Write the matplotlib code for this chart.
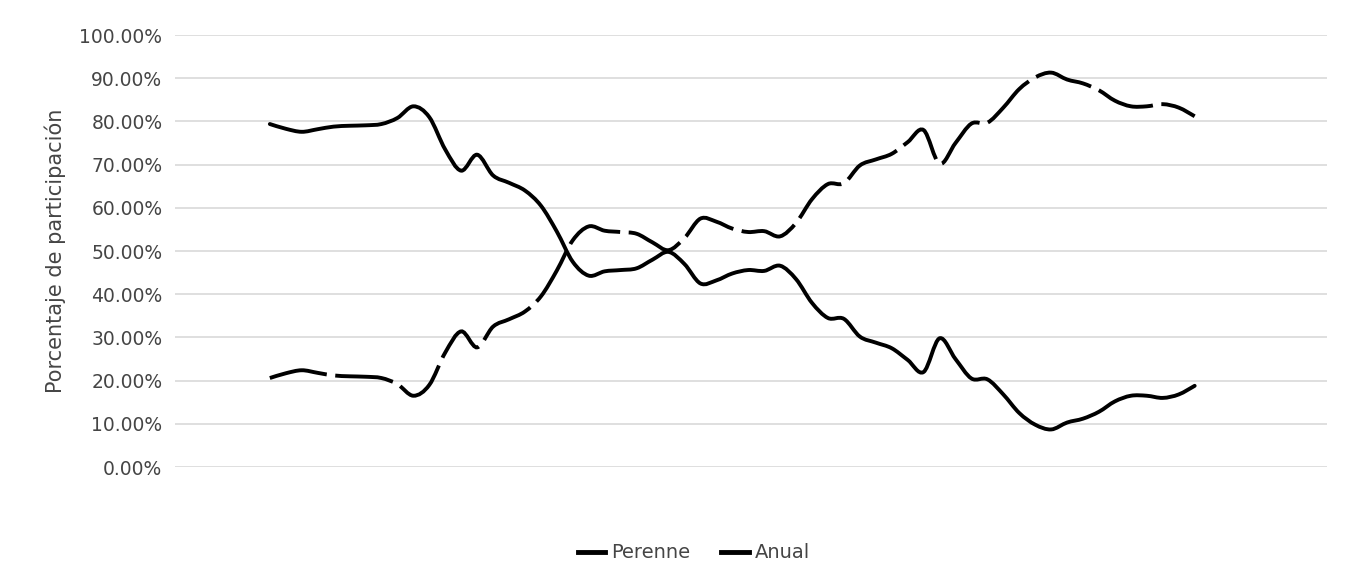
import numpy as np
import matplotlib
matplotlib.use("Agg")
import matplotlib.pyplot as plt
from matplotlib.path import Path
from matplotlib.patches import PathPatch
from matplotlib.lines import Line2D
from matplotlib.ticker import PercentFormatter, MultipleLocator

# Share of participation per period (fractions)
perenne = [0.794, 0.783, 0.776, 0.782, 0.788, 0.790, 0.791, 0.794, 0.808, 0.835,
           0.810, 0.735, 0.686, 0.723, 0.675, 0.658, 0.640, 0.605, 0.545, 0.475,
           0.443, 0.453, 0.456, 0.460, 0.480, 0.498, 0.470, 0.425, 0.432, 0.448,
           0.456, 0.454, 0.466, 0.435, 0.380, 0.345, 0.343, 0.302, 0.288, 0.275,
           0.248, 0.220, 0.298, 0.250, 0.205, 0.203, 0.168, 0.125, 0.098, 0.087,
           0.103, 0.112, 0.128, 0.152, 0.165, 0.165, 0.160, 0.168, 0.188]
anual = [0.206, 0.217, 0.224, 0.218, 0.212, 0.210, 0.209, 0.206, 0.192, 0.165,
         0.190, 0.265, 0.314, 0.277, 0.325, 0.342, 0.360, 0.395, 0.455, 0.525,
         0.557, 0.547, 0.544, 0.540, 0.520, 0.502, 0.530, 0.575, 0.568, 0.552,
         0.544, 0.546, 0.534, 0.565, 0.620, 0.655, 0.657, 0.698, 0.712, 0.725,
         0.752, 0.780, 0.702, 0.750, 0.795, 0.797, 0.832, 0.875, 0.902, 0.913,
         0.897, 0.888, 0.872, 0.848, 0.835, 0.835, 0.840, 0.832, 0.812]
labels = ["Perenne", "Anual"]

grey = "#454545"


def smooth_path(x, y):
    """Bezier path through the points, same style as a smoothed Excel line."""
    n = len(x)
    verts = [(x[0], y[0])]
    codes = [Path.MOVETO]
    for i in range(n - 1):
        a = max(i - 1, 0)
        b = min(i + 2, n - 1)
        c1 = (x[i] + (x[i + 1] - x[a]) / 6, y[i] + (y[i + 1] - y[a]) / 6)
        c2 = (x[i + 1] - (x[b] - x[i]) / 6, y[i + 1] - (y[b] - y[i]) / 6)
        verts += [c1, c2, (x[i + 1], y[i + 1])]
        codes += [Path.CURVE4] * 3
    return Path(verts, codes)


fig = plt.figure(figsize=(13.49, 5.84), dpi=100)
ax = fig.add_axes([0.1297, 0.2003, 0.854, 0.7397])

x = np.arange(len(perenne))
ax.add_patch(PathPatch(smooth_path(x, perenne), fill=False, color="black",
                       lw=2.8, capstyle="round", joinstyle="round"))
ax.add_patch(PathPatch(smooth_path(x, anual), fill=False, color="black",
                       lw=2.8, linestyle=(0, (15, 2.2)), capstyle="butt"))

ax.set_xlim(-5.95, 66.3)
ax.set_ylim(0, 1.0)
ax.yaxis.set_major_locator(MultipleLocator(0.1))
ax.yaxis.set_major_formatter(PercentFormatter(1.0, decimals=2))
ax.set_xticks([])
ax.tick_params(axis="y", length=0, pad=9, labelsize=13.5, labelcolor=grey)
for s in ax.spines.values():
    s.set_visible(False)
ax.grid(axis="y", color="#d9d9d9", lw=1.2)
ax.set_axisbelow(True)
ax.set_ylabel("Porcentaje de participación", fontsize=15, color=grey, labelpad=10)

handles = [Line2D([], [], color="black", lw=3.5),
           Line2D([], [], color="black", lw=3.5)]
fig.legend(handles, labels, loc="center", bbox_to_anchor=(694 / 1349, 1 - 553 / 584),
           ncol=2, frameon=False, fontsize=14, labelcolor=grey,
           handlelength=1.4, handletextpad=0.3, columnspacing=1.6)

fig.savefig("out.png", dpi=100)
